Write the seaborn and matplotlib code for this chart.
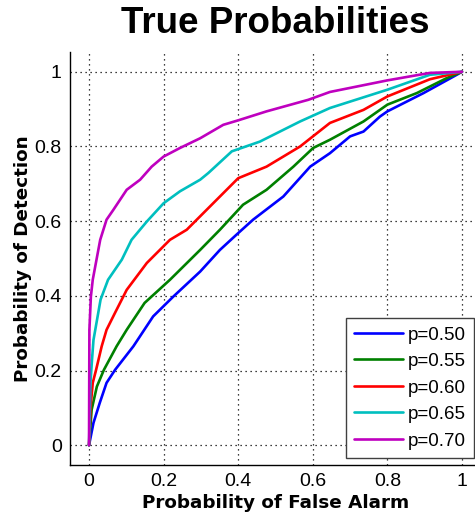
import matplotlib
matplotlib.use("Agg")
import matplotlib.pyplot as plt
import pandas as pd
import seaborn as sns

# ROC curves (false alarm rate, detection rate) for each true probability
labels = ["p=0.50", "p=0.55", "p=0.60", "p=0.65", "p=0.70"]

pfa_50 = [0, 0.003, 0.012, 0.029, 0.047, 0.07, 0.119, 0.172, 0.226, 0.298, 0.351, 0.4, 0.44,
          0.521, 0.593, 0.646, 0.7, 0.736, 0.78, 0.8, 0.897, 0.986, 1]
pd_50 = [0, 0.015, 0.06, 0.114, 0.167, 0.202, 0.265, 0.345, 0.398, 0.465, 0.523, 0.568, 0.604,
         0.666, 0.746, 0.782, 0.827, 0.84, 0.88, 0.894, 0.943, 0.992, 1]

pfa_55 = [0, 0.007, 0.021, 0.04, 0.074, 0.101, 0.149, 0.217, 0.298, 0.351, 0.413, 0.476,
          0.548, 0.601, 0.646, 0.736, 0.8, 0.879, 0.959, 1]
pd_55 = [0, 0.095, 0.157, 0.202, 0.265, 0.309, 0.381, 0.443, 0.523, 0.577, 0.644, 0.684,
         0.746, 0.796, 0.818, 0.867, 0.912, 0.943, 0.983, 1]

pfa_60 = [0, 0.004, 0.01, 0.019, 0.034, 0.047, 0.07, 0.101, 0.155, 0.217, 0.262, 0.298, 0.351,
          0.4, 0.476, 0.566, 0.646, 0.736, 0.8, 0.914, 1]
pd_60 = [0, 0.1, 0.167, 0.202, 0.265, 0.309, 0.355, 0.416, 0.488, 0.55, 0.577, 0.613, 0.666,
         0.715, 0.746, 0.8, 0.863, 0.898, 0.934, 0.98, 1]

pfa_65 = [0, 0.004, 0.008, 0.012, 0.031, 0.051, 0.088, 0.114, 0.155, 0.2, 0.244, 0.298, 0.32,
          0.383, 0.458, 0.566, 0.646, 0.8, 0.914, 1]
pd_65 = [0, 0.17, 0.229, 0.282, 0.39, 0.443, 0.497, 0.55, 0.599, 0.648, 0.68, 0.711, 0.729,
         0.787, 0.813, 0.867, 0.903, 0.952, 0.992, 1]

pfa_70 = [0, 0.001, 0.005, 0.01, 0.03, 0.047, 0.065, 0.101, 0.137, 0.168, 0.2, 0.244, 0.298,
          0.36, 0.4, 0.476, 0.588, 0.646, 0.8, 0.914, 1]
pd_70 = [0, 0.309, 0.398, 0.443, 0.55, 0.604, 0.63, 0.684, 0.711, 0.746, 0.773, 0.796, 0.822,
         0.858, 0.87, 0.894, 0.925, 0.946, 0.977, 0.997, 1]

ticks = [0, 0.2, 0.4, 0.6, 0.8, 1]
tick_labels = ["0", "0.2", "0.4", "0.6", "0.8", "1"]

series = [(labels[0], pfa_50, pd_50), (labels[1], pfa_55, pd_55), (labels[2], pfa_60, pd_60),
          (labels[3], pfa_65, pd_65), (labels[4], pfa_70, pd_70)]
frames = []
for name, xs, ys in series:
    frames.append(pd.DataFrame({"pfa": xs, "pd": ys, "curve": name}))
df = pd.concat(frames, ignore_index=True)

sns.set_style("white")
plt.rcParams["font.family"] = ["Liberation Sans", "DejaVu Sans"]
plt.rcParams["text.color"] = "black"
plt.rcParams["axes.labelcolor"] = "black"

colors = ["#0000FF", "#008000", "#FF0000", "#00BFBF", "#BF00BF"]

fig = plt.figure(figsize=(4.75, 5.15), dpi=100)
ax = fig.add_axes([70 / 475, 50 / 515, 410.6 / 475, 413 / 515])

sns.lineplot(data=df, x="pfa", y="pd", hue="curve", hue_order=labels, palette=colors,
             estimator=None, sort=False, linewidth=1.9, ax=ax)

ax.set_xlim(-0.051, 1.05)
ax.set_ylim(-0.053, 1.053)
ax.set_xticks(ticks)
ax.set_xticklabels(tick_labels)
ax.set_yticks(ticks)
ax.set_yticklabels(tick_labels)
ax.tick_params(axis="both", labelsize=14, direction="in", length=4, width=0.8,
               colors="black", pad=6)

ax.grid(True, color="black", linestyle=(0, (1, 3)), linewidth=0.9)
for side in ["top", "right"]:
    ax.spines[side].set_visible(False)
for side in ["left", "bottom"]:
    ax.spines[side].set_color("black")
    ax.spines[side].set_linewidth(1.0)

label_font = {"family": ["DejaVu Sans"], "size": 13.2, "weight": "bold"}
ax.set_xlabel("Probability of False Alarm", fontdict=label_font, labelpad=3)
ax.set_ylabel("Probability of Detection", fontdict=label_font, labelpad=2)
ax.set_title("True Probabilities", fontsize=26.5, fontweight="bold", pad=14, color="black")

leg = ax.legend(loc="lower right", bbox_to_anchor=(0.984, 0.017), borderaxespad=0,
                fontsize=13.5, frameon=True, fancybox=False, framealpha=1,
                edgecolor="#404040", handlelength=2.6, handletextpad=0.25,
                labelspacing=0.5, borderpad=0.45)
leg.get_frame().set_linewidth(1.0)
for line in leg.get_lines():
    line.set_linewidth(1.9)

fig.savefig("out.png", dpi=100)
